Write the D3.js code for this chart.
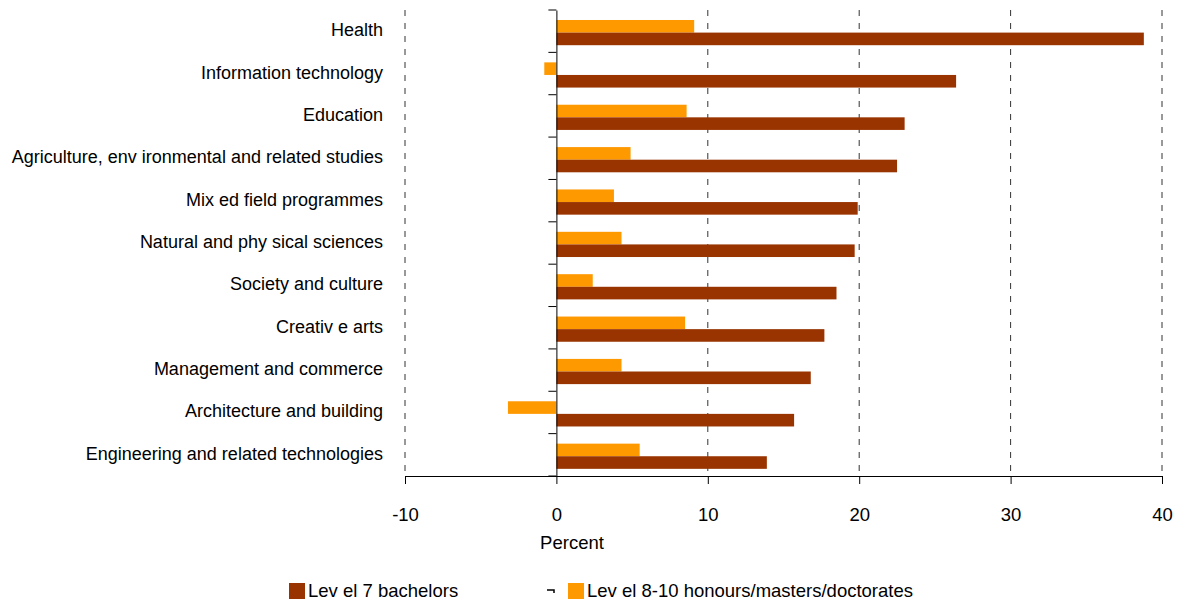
<!DOCTYPE html>
<html>
<head>
<meta charset="utf-8">
<script src="https://cdn.jsdelivr.net/npm/d3@7"></script>
<style>
  body { margin: 0; background: #fff; }
  text { font-family: "Liberation Sans", Arial, sans-serif; fill: #000; }
</style>
</head>
<body>
<div id="chart"></div>
<script>
// categories top to bottom
const categories = [
  "Health",
  "Information technology",
  "Education",
  "Agriculture, env ironmental and related studies",
  "Mix ed field programmes",
  "Natural and phy sical sciences",
  "Society and culture",
  "Creativ e arts",
  "Management and commerce",
  "Architecture and building",
  "Engineering and related technologies"
];
const level7 = [38.8, 26.4, 23.0, 22.5, 19.9, 19.7, 18.5, 17.7, 16.8, 15.7, 13.9];
const level810 = [9.1, -0.8, 8.6, 4.9, 3.8, 4.3, 2.4, 8.5, 4.3, -3.2, 5.5];
const xTicks = [-10, 0, 10, 20, 30, 40];
const seriesNames = ["Lev el 7 bachelors", "Lev el 8-10 honours/masters/doctorates"];
const colors = ["#993300", "#ff9900"];

const width = 1178, height = 601;
const margin = {top: 10, right: 16, bottom: 125, left: 405};

const svg = d3.select("#chart").append("svg")
  .attr("width", width)
  .attr("height", height);

const x = d3.scaleLinear()
  .domain([-10, 40])
  .range([margin.left, width - margin.right]);

const y = d3.scaleBand()
  .domain(categories)
  .range([margin.top, height - margin.bottom]);

const bottom = height - margin.bottom;

// dashed gridlines
svg.selectAll(".grid")
  .data(xTicks.filter(d => d !== 0))
  .enter().append("line")
  .attr("class", "grid")
  .attr("x1", d => x(d)).attr("x2", d => x(d))
  .attr("y1", margin.top).attr("y2", bottom)
  .attr("stroke", "#333")
  .attr("stroke-dasharray", "6,7");

// bars
const barH = 12.6;
const rows = categories.map((c, i) => ({c, a: level810[i], b: level7[i]}));

svg.selectAll(".bar-hi")
  .data(rows)
  .enter().append("rect")
  .attr("x", d => x(Math.min(0, d.a)))
  .attr("y", d => y(d.c) + 10)
  .attr("width", d => Math.abs(x(d.a) - x(0)))
  .attr("height", barH)
  .attr("fill", colors[1]);

svg.selectAll(".bar-lo")
  .data(rows)
  .enter().append("rect")
  .attr("x", d => x(Math.min(0, d.b)))
  .attr("y", d => y(d.c) + 10 + barH)
  .attr("width", d => Math.abs(x(d.b) - x(0)))
  .attr("height", barH)
  .attr("fill", colors[0]);

// x axis
const xAxis = svg.append("g")
  .attr("transform", "translate(0," + bottom + ")")
  .call(d3.axisBottom(x).tickValues(xTicks).tickSize(8).tickSizeOuter(0)
    .tickPadding(24).tickFormat(d => String(d)));
xAxis.select(".domain").attr("stroke", "#000");
xAxis.selectAll(".tick line").attr("stroke", "#000");
xAxis.selectAll(".tick text")
  .style("font-family", "'Liberation Sans', Arial, sans-serif")
  .style("font-size", "18.5px")
  .attr("fill", "#000");

// y axis at zero
const yAxis = svg.append("g")
  .attr("transform", "translate(" + x(0) + ",0)")
  .call(d3.axisLeft(y).tickSize(8).tickSizeOuter(0).tickFormat(""));
yAxis.select(".domain").attr("stroke", "#000");
yAxis.selectAll(".tick line")
  .attr("stroke", "#000")
  .attr("transform", "translate(0," + (-y.bandwidth() / 2) + ")");
yAxis.append("line")
  .attr("x1", -8).attr("x2", 0)
  .attr("y1", bottom).attr("y2", bottom)
  .attr("stroke", "#000");

// category labels
svg.selectAll(".cat")
  .data(categories)
  .enter().append("text")
  .attr("class", "cat")
  .attr("x", 383)
  .attr("y", d => y(d) + y.bandwidth() / 2 + 5)
  .attr("text-anchor", "end")
  .style("font-size", "18px")
  .text(d => d);

svg.append("text")
  .attr("x", 572)
  .attr("y", 549)
  .attr("text-anchor", "middle")
  .style("font-size", "18.5px")
  .text("Percent");

// legend
const legend = svg.append("g");
const legX = [289, 568];
seriesNames.forEach((name, i) => {
  legend.append("rect")
    .attr("x", legX[i]).attr("y", 583)
    .attr("width", 16).attr("height", 16)
    .attr("fill", colors[i]);
  legend.append("text")
    .attr("x", legX[i] + 19).attr("y", 597)
    .style("font-size", "18.5px")
    .text(name);
});
// small stray marker before the second key
legend.append("path")
  .attr("d", "M547,590 L554,590 L554,593")
  .attr("fill", "none")
  .attr("stroke", "#000")
  .attr("stroke-width", 1.5);
</script>
</body>
</html>
